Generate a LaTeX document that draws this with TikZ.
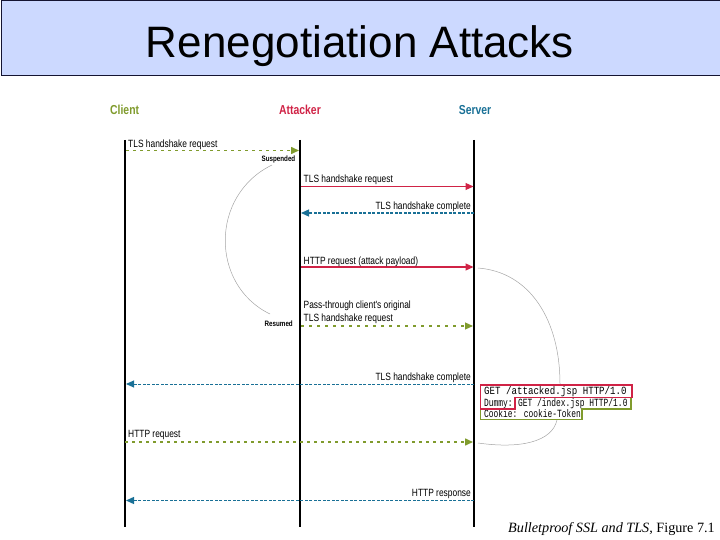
\documentclass[tikz,border=0pt]{standalone}
\usepackage{fontspec}
\setmainfont{Liberation Sans}
\newfontfamily\cond[FakeStretch=0.8]{Liberation Sans}
\newfontfamily\condb[FakeStretch=0.8]{Liberation Sans Bold}
\newfontfamily\monof[FakeStretch=0.72]{Liberation Mono}
\newfontfamily\monow[FakeStretch=0.83]{Liberation Mono}
\newfontfamily\serff{Liberation Serif}
\usetikzlibrary{arrows.meta}
\definecolor{titlebg}{RGB}{204,217,255}
\definecolor{titlebd}{RGB}{20,20,50}
\definecolor{cgreen}{RGB}{128,155,45}
\definecolor{cred}{RGB}{208,35,70}
\definecolor{cblue}{RGB}{25,112,150}
\definecolor{curvegray}{RGB}{165,165,165}
\begin{document}
\begin{tikzpicture}[x=1pt,y=-1pt,
  lbl/.style={font=\cond\fontsize{10.5}{12}\selectfont, inner sep=0pt},
  hdr/.style={font=\condb\fontsize{13}{15}\selectfont, inner sep=0pt},
  smalllbl/.style={font=\condb\fontsize{7.8}{9}\selectfont, inner sep=0pt},
  code/.style={font=\monof\fontsize{11}{12}\selectfont, inner sep=0pt, anchor=base west},
  life/.style={line width=1.3pt},
  tipped/.style={-{Triangle[length=8pt,width=7pt]}},
  msggreen/.style={tipped, draw=cgreen, line width=1.5pt, dash pattern=on 3pt off 4pt},
  msgred/.style={tipped, draw=cred, line width=1.2pt},
  msgblue/.style={tipped, draw=cblue, line width=1.3pt, dash pattern=on 3pt off 1.5pt},
  note/.style={draw=curvegray, line width=0.5pt},
]
\useasboundingbox (0,0) rectangle (720,540);
% title
\node[draw=titlebd, fill=titlebg, line width=1pt, minimum width=719pt, minimum height=75pt, anchor=north west, inner sep=0pt] (titlebar) at (0.5,0.5) {};
\node[font=\fontsize{44}{50}\selectfont, anchor=base, inner sep=0pt] (title) at (360,58) {Renegotiation Attacks};

% headers
\node[hdr, text=cgreen, anchor=base west] (hclient) at (110,115) {Client};
\node[hdr, text=cred, anchor=base] (hattacker) at (300,115) {Attacker};
\node[hdr, text=cblue, anchor=base] (hserver) at (475,115) {Server};

% lifelines
\coordinate (ct) at (125,140); \coordinate (cb) at (125,527);
\coordinate (at) at (300,140); \coordinate (ab) at (300,527);
\coordinate (st) at (474,140); \coordinate (sb) at (474,527);
\draw[life] (ct) -- (cb);
\draw[life, line width=2pt] (at) -- (ab);
\draw[life] (st) -- (sb);

% message 1
\coordinate (m1a) at (126,150.5); \coordinate (m1b) at (299,150.5);
\draw[msggreen] (m1a) -- (m1b);
\node[lbl, anchor=base west] (l1) at (128,147.5) {TLS handshake request};
\node[smalllbl, anchor=base east] (susp) at (295.5,161.7) {Suspended};

% message 2
\coordinate (m2a) at (301,186.5); \coordinate (m2b) at (473.5,186.5);
\draw[msgred] (m2a) -- (m2b);
\node[lbl, anchor=base west] (l2) at (303.5,182.3) {TLS handshake request};

% message 3
\coordinate (m3a) at (474,213); \coordinate (m3b) at (301,213);
\draw[msgblue] (m3a) -- (m3b);
\node[lbl, anchor=base east] (l3) at (471,210) {TLS handshake complete};

% message 4
\coordinate (m4a) at (301,267); \coordinate (m4b) at (473.5,267);
\draw[msgred] (m4a) -- (m4b);
\node[lbl, anchor=base west] (l4) at (303.5,264.5) {HTTP request (attack payload)};

% message 5
\coordinate (m5a) at (301,326); \coordinate (m5b) at (473,326);
\draw[msggreen, line width=1.2pt, dash pattern=on 3pt off 5pt] (m5a) -- (m5b);
\node[lbl, anchor=base west] (l5a) at (303.5,308.5) {Pass-through client's original};
\node[lbl, anchor=base west] (l5b) at (303.5,321.5) {TLS handshake request};
\node[smalllbl, anchor=base east] (resumed) at (293,326.5) {Resumed};

% message 6
\coordinate (m6a) at (474,384); \coordinate (m6b) at (126,384);
\draw[msgblue, line width=1pt] (m6a) -- (m6b);
\node[lbl, anchor=base east] (l6) at (471,380.5) {TLS handshake complete};

% message 7
\coordinate (m7a) at (125,442); \coordinate (m7b) at (473,442);
\draw[msggreen] (m7a) -- (m7b);
\node[lbl, anchor=base west] (l7) at (128,437.5) {HTTP request};

% message 8
\coordinate (m8a) at (474,500.5); \coordinate (m8b) at (126,500.5);
\draw[msgblue] (m8a) -- (m8b);
\node[lbl, anchor=base east] (l8) at (471,496.5) {HTTP response};

% code box
\node[code, font=\monow\fontsize{11}{12}\selectfont] (c1) at (484,394.5) {GET /attacked.jsp HTTP/1.0};
\node[code] (c2) at (484,406) {Dummy:};
\node[code] (c3) at (518,406) {GET /index.jsp HTTP/1.0};
\node[code] (c4) at (484,417) {Cookie: cookie-Token};
\draw[cgreen, line width=1.2pt] (515,397.5) -- (631,397.5) -- (631,409) -- (582,409) -- (582,419.5) -- (480.5,419.5) -- (480.5,409) -- (515,409) -- cycle;
\draw[cred, line width=1.3pt] (480.5,385) -- (632,385) -- (632,397.5) -- (515,397.5) -- (515,409) -- (480.5,409) -- cycle;

% gray note curves
\coordinate (n1a) at (272,165); \coordinate (n1b) at (270,314);
\draw[note] (n1a) .. controls (210,195) and (210,285) .. (n1b);
\coordinate (n2a) at (478,268); \coordinate (n2b) at (560,384);
\draw[note] (n2a) .. controls (530,272) and (560,320) .. (n2b);
\coordinate (n3a) at (557,420); \coordinate (n3b) at (478,443);
\draw[note] (n3a) .. controls (552,442) and (520,449) .. (n3b);

% citation
\node[font=\serff\fontsize{14.2}{16}\selectfont, anchor=base east, inner sep=0pt] (cite) at (715,532) {\textit{Bulletproof SSL and TLS}, Figure 7.1};
\end{tikzpicture}
\end{document}
